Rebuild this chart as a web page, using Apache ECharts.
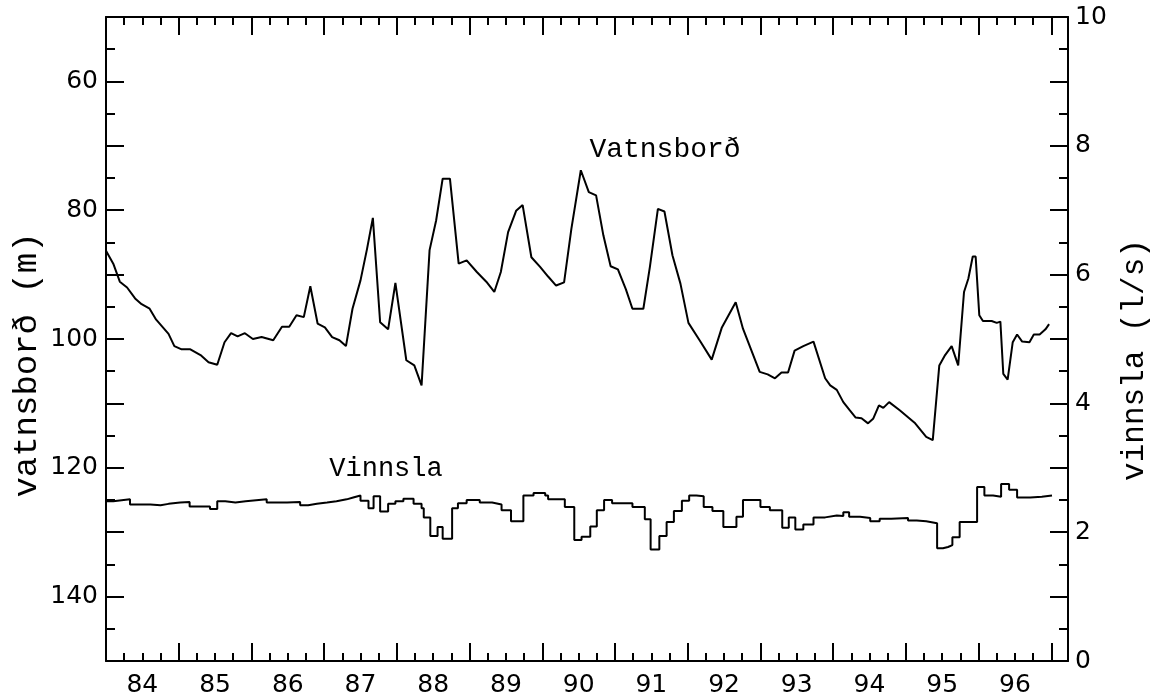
<!DOCTYPE html>
<html>
<head>
<meta charset="utf-8">
<script src="https://cdn.jsdelivr.net/npm/echarts@6/dist/echarts.min.js"></script>
<style>
  html, body { margin: 0; padding: 0; background: #fff; }
  #chart { width: 1157px; height: 700px; }
</style>
</head>
<body>
<div id="chart"></div>
<script>
// vatnsborð (m) – water level
const levelYears = [
  1984.00, 1984.10, 1984.19, 1984.29, 1984.40, 1984.49, 1984.60, 1984.69, 1984.86, 1984.94,
  1985.04, 1985.16, 1985.30, 1985.41, 1985.53, 1985.63, 1985.72, 1985.81, 1985.91,
  1986.02, 1986.14, 1986.30, 1986.42, 1986.52, 1986.62, 1986.72, 1986.81, 1986.91,
  1987.01, 1987.11, 1987.21, 1987.30, 1987.39, 1987.50, 1987.59, 1987.67, 1987.77, 1987.88, 1987.98,
  1988.13, 1988.24, 1988.34, 1988.45, 1988.54, 1988.63, 1988.73, 1988.85, 1988.96,
  1989.10, 1989.23, 1989.34, 1989.43, 1989.53, 1989.64, 1989.73, 1989.85, 1989.97,
  1990.08, 1990.19, 1990.30, 1990.40, 1990.53, 1990.64, 1990.74, 1990.84, 1990.94,
  1991.04, 1991.15, 1991.24, 1991.39, 1991.48, 1991.59, 1991.68, 1991.79, 1991.90,
  1992.01, 1992.17, 1992.33, 1992.47, 1992.66, 1992.76, 1992.99,
  1993.10, 1993.20, 1993.29, 1993.38, 1993.47, 1993.59, 1993.73, 1993.89, 1993.96,
  1994.05, 1994.14, 1994.23, 1994.31, 1994.39, 1994.48, 1994.55, 1994.63, 1994.69, 1994.77, 1994.92,
  1995.12, 1995.28, 1995.37, 1995.46, 1995.54, 1995.63, 1995.72, 1995.80, 1995.86, 1995.92, 1995.96,
  1996.01, 1996.06, 1996.18, 1996.25, 1996.30, 1996.34, 1996.40, 1996.47, 1996.53, 1996.60,
  1996.70, 1996.76, 1996.84, 1996.92, 1996.97
];
const levelValues = [
  86.3, 88.3, 91.1, 92.0, 93.7, 94.6, 95.3, 97.0, 99.2, 101.1,
  101.6, 101.6, 102.5, 103.6, 104.0, 100.5, 99.1, 99.6, 99.1,
  100.0, 99.7, 100.2, 98.1, 98.1, 96.3, 96.6, 91.8, 97.6,
  98.2, 99.7, 100.2, 101.1, 95.3, 90.9, 86.0, 81.2, 97.4, 98.5, 91.3,
  103.3, 104.1, 107.2, 86.2, 81.6, 75.1, 75.1, 88.3, 87.8,
  89.6, 91.1, 92.7, 89.6, 83.4, 80.1, 79.2, 87.3, 88.8,
  90.3, 91.7, 91.2, 82.9, 73.8, 77.2, 77.7, 83.9, 88.7,
  89.2, 92.3, 95.3, 95.3, 88.8, 79.8, 80.2, 87.0, 91.4,
  97.5, 100.3, 103.2, 98.2, 94.3, 98.4, 105.1,
  105.5, 106.1, 105.2, 105.2, 101.8, 101.1, 100.4, 106.1, 107.2,
  107.9, 109.8, 111.1, 112.2, 112.3, 113.1, 112.4, 110.3, 110.7, 109.8, 111.1,
  113.0, 115.2, 115.7, 104.1, 102.5, 101.1, 104.1, 92.7, 90.6, 87.2, 87.2,
  96.3, 97.2, 97.2, 97.5, 97.3, 105.4, 106.3, 100.5, 99.3, 100.4,
  100.5, 99.3, 99.3, 98.5, 97.7
];

// vinnsla (l/s) – abstraction, step starts
const flowYears = [
  1984.00, 1984.10, 1984.33, 1984.61, 1984.75, 1984.86, 1985.02, 1985.15, 1985.43, 1985.53,
  1985.64, 1985.78, 1985.92, 1986.21, 1986.49, 1986.67, 1986.78, 1986.90, 1987.04, 1987.17,
  1987.31, 1987.40, 1987.50, 1987.61, 1987.68, 1987.77, 1987.88, 1987.98, 1988.09, 1988.23,
  1988.34, 1988.37, 1988.46, 1988.56, 1988.63, 1988.76, 1988.84, 1988.96, 1989.14, 1989.31,
  1989.44, 1989.57, 1989.74, 1989.88, 1990.04, 1990.08, 1990.31, 1990.44, 1990.54, 1990.66,
  1990.75, 1990.85, 1990.96, 1991.24, 1991.41, 1991.49, 1991.61, 1991.71, 1991.81, 1991.92,
  1992.02, 1992.12, 1992.22, 1992.34, 1992.49, 1992.67, 1992.76, 1993.00, 1993.13, 1993.30,
  1993.39, 1993.48, 1993.59, 1993.73, 1993.89, 1994.05, 1994.14, 1994.22, 1994.37, 1994.51,
  1994.64, 1994.80, 1995.03, 1995.15, 1995.28, 1995.43, 1995.51, 1995.58, 1995.64, 1995.74,
  1995.98, 1996.08, 1996.20, 1996.31, 1996.42, 1996.53, 1996.71, 1996.87, 1997.01
];
const flowValues = [
  2.48, 2.51, 2.43, 2.42, 2.44, 2.46, 2.47, 2.40, 2.36, 2.48,
  2.46, 2.48, 2.51, 2.46, 2.47, 2.42, 2.44, 2.46, 2.48, 2.51,
  2.54, 2.57, 2.49, 2.37, 2.56, 2.32, 2.44, 2.48, 2.52, 2.44,
  2.37, 2.23, 1.94, 2.08, 1.90, 2.37, 2.45, 2.50, 2.46, 2.43,
  2.34, 2.17, 2.57, 2.61, 2.57, 2.51, 2.39, 1.88, 1.93, 2.09,
  2.34, 2.50, 2.45, 2.39, 2.20, 1.73, 1.94, 2.16, 2.33, 2.49,
  2.57, 2.56, 2.39, 2.33, 2.08, 2.24, 2.50, 2.39, 2.34, 2.07,
  2.23, 2.04, 2.12, 2.23, 2.26, 2.25, 2.31, 2.24, 2.22, 2.17,
  2.21, 2.22, 2.18, 2.17, 2.14, 1.75, 1.77, 1.80, 1.92, 2.16,
  2.70, 2.57, 2.55, 2.75, 2.66, 2.54, 2.55, 2.57, 2.57
];

const xMin = 1984;
const xMax = 1997.23;

const chart = echarts.init(document.getElementById('chart'), null, { renderer: 'canvas' });

const black = '#000';
const tickFont = { color: black, fontFamily: 'DejaVu Sans', fontSize: 25 };

function xTicks(position, interval, len, extra) {
  return Object.assign({
    type: 'value',
    position: position,
    min: xMin,
    max: xMax,
    interval: interval,
    axisLine: { show: false, onZero: false },
    axisTick: { show: true, inside: true, length: len, lineStyle: { color: black, width: 2 } },
    axisLabel: { show: false },
    splitLine: { show: false }
  }, extra || {});
}

const option = {
  animation: false,
  backgroundColor: '#fff',
  grid: { left: 106, right: 89, top: 17, bottom: 39 },
  xAxis: [
    xTicks('bottom', 1, 18, { axisLine: { show: true, onZero: false, lineStyle: { color: black, width: 2 } } }),
    xTicks('bottom', 0.25, 8, {
      axisLabel: {
        show: true,
        margin: 12,
        ...tickFont,
        formatter: v => Math.abs((v % 1) - 0.5) < 0.01 ? String(Math.floor(v) % 100) : ''
      }
    }),
    xTicks('top', 1, 18, { axisLine: { show: true, onZero: false, lineStyle: { color: black, width: 2 } } }),
    xTicks('top', 0.25, 8)
  ],
  yAxis: [
    {
      type: 'value',
      position: 'left',
      inverse: true,
      min: 50,
      max: 150,
      interval: 10,
      axisLine: { show: true, onZero: false, lineStyle: { color: black, width: 2 } },
      axisTick: { show: true, inside: true, length: 18, lineStyle: { color: black, width: 2 } },
      minorTick: { show: true, splitNumber: 2, length: 9, lineStyle: { color: black, width: 2 } },
      axisLabel: { margin: 8, ...tickFont, formatter: v => v % 20 === 0 ? String(v) : '' },
      splitLine: { show: false }
    },
    {
      type: 'value',
      position: 'right',
      min: 0,
      max: 10,
      interval: 1,
      axisLine: { show: true, onZero: false, lineStyle: { color: black, width: 2 } },
      axisTick: { show: true, inside: true, length: 18, lineStyle: { color: black, width: 2 } },
      minorTick: { show: true, splitNumber: 2, length: 9, lineStyle: { color: black, width: 2 } },
      axisLabel: { margin: 7, ...tickFont, formatter: v => v % 2 === 0 ? String(v) : '' },
      splitLine: { show: false }
    }
  ],
  series: [
    {
      name: 'Vatnsborð',
      type: 'line',
      xAxisIndex: 0,
      yAxisIndex: 0,
      showSymbol: false,
      lineStyle: { color: black, width: 2 },
      data: levelYears.map((y, i) => [y, levelValues[i]])
    },
    {
      name: 'Vinnsla',
      type: 'line',
      xAxisIndex: 0,
      yAxisIndex: 1,
      step: 'end',
      showSymbol: false,
      lineStyle: { color: black, width: 2 },
      data: flowYears.map((y, i) => [y, flowValues[i]])
    }
  ],
  graphic: [
    {
      type: 'text', x: 27, y: 365, rotation: Math.PI / 2,
      style: { text: 'vatnsborð (m)', fill: black, font: '34px "Liberation Mono"', align: 'center', verticalAlign: 'middle' }
    },
    {
      type: 'text', x: 1135, y: 360, rotation: Math.PI / 2,
      style: { text: 'vinnsla (l/s)', fill: black, font: '31px "Liberation Mono"', align: 'center', verticalAlign: 'middle' }
    },
    {
      type: 'text', x: 665, y: 150,
      style: { text: 'Vatnsborð', fill: black, font: '28px "Liberation Mono"', align: 'center', verticalAlign: 'middle' }
    },
    {
      type: 'text', x: 386, y: 469,
      style: { text: 'Vinnsla', fill: black, font: '27px "Liberation Mono"', align: 'center', verticalAlign: 'middle' }
    }
  ]
};

option && chart.setOption(option);
</script>
</body>
</html>
